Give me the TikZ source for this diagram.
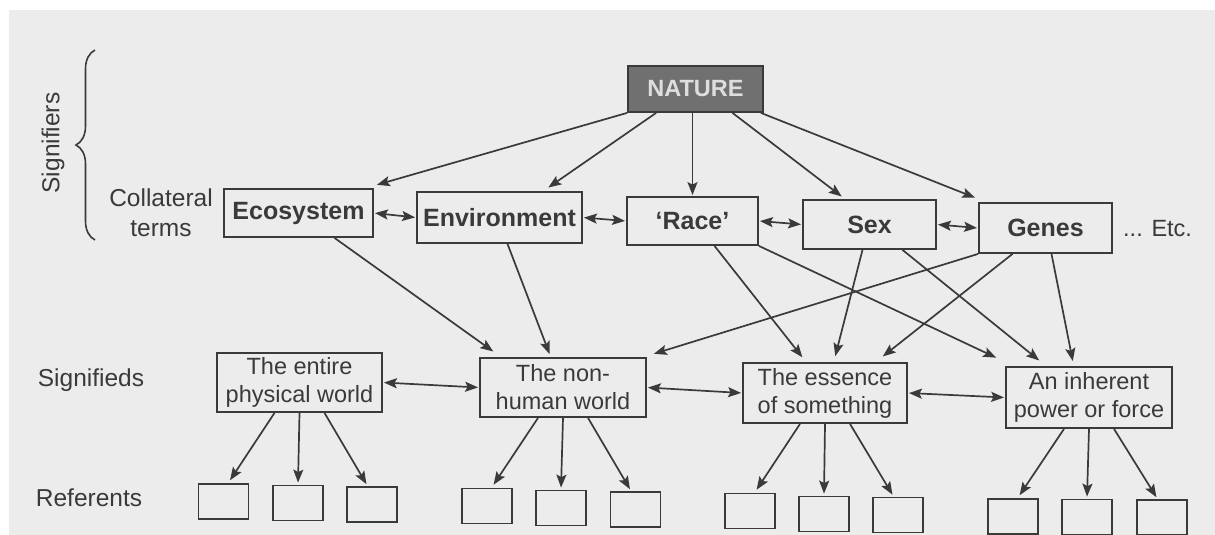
\documentclass[tikz,border=0pt]{standalone}
\usepackage{fontspec}
\setmainfont{Liberation Sans}
\usetikzlibrary{arrows.meta,decorations.pathreplacing,calc}
\definecolor{paper}{RGB}{236,236,236}
\definecolor{ink}{RGB}{58,58,58}
\definecolor{natfill}{RGB}{112,112,112}
\definecolor{nattext}{RGB}{222,222,222}
\begin{document}
\begin{tikzpicture}[x=1pt,y=-1pt,
  box/.style={draw=ink, line width=1.8pt, inner sep=0pt, text=ink, align=center},
  termbox/.style={box, font=\fontsize{25}{30}\selectfont\bfseries, minimum height=48pt},
  sigbox/.style={box, font=\fontsize{23.5}{28}\selectfont, minimum width=166pt, minimum height=60pt},
  refbox/.style={box, minimum width=50pt, minimum height=35pt},
  lbl/.style={text=ink, font=\fontsize{24.5}{30}\selectfont, align=center, inner sep=0pt},
  tip/.tip={Stealth[length=13pt,width=10pt,inset=2.5pt]},
  arr/.style={draw=ink, line width=1.7pt, -tip, shorten >=1pt},
  darr/.style={draw=ink, line width=1.7pt, tip-tip, shorten >=1pt, shorten <=1pt},
]
\useasboundingbox (0,0) rectangle (1215,535);
\fill[white] (0,0) rectangle (1215,535);
\fill[paper] (9,10) rectangle (1215,535);

% top
\node[box, fill=natfill, text=nattext, font=\fontsize{23.5}{28}\selectfont\bfseries, minimum width=135pt, minimum height=46pt] (nature) at (695.5,89) {NATURE};

% collateral terms
\node[termbox, minimum width=149pt] (eco) at (298.5,213) {Ecosystem};
\node[termbox, minimum width=165pt, minimum height=51pt] (env) at (499.5,217.5) {Environment};
\node[termbox, minimum width=131pt] (race) at (692.5,221) {‘Race’};
\node[termbox, minimum width=133pt, minimum height=49pt] (sex) at (869.5,224.5) {Sex};
\node[termbox, minimum width=133pt, minimum height=50pt] (genes) at (1045.5,228) {Genes};
\node[lbl, font=\fontsize{23.5}{28}\selectfont, anchor=west] (etc) at (1123,229) {... Etc.};

% signifieds
\node[sigbox, minimum width=165pt, minimum height=59pt] (entire) at (299.5,382.5) {The entire\\physical world};
\node[sigbox, minimum height=59pt] (nonhuman) at (563,387.5) {The non-\\human world};
\node[sigbox, minimum width=164pt] (essence) at (825,393) {The essence\\of something};
\node[sigbox, minimum height=61pt] (inherent) at (1089,397.5) {An inherent\\power or force};

% referents
\node[refbox] (r1) at (223.5,501.5) {};
\node[refbox] (r2) at (298,503) {};
\node[refbox] (r3) at (372,504.5) {};
\node[refbox] (r4) at (487,506) {};
\node[refbox] (r5) at (561,508) {};
\node[refbox] (r6) at (635.5,509.5) {};
\node[refbox] (r7) at (750,511) {};
\node[refbox] (r8) at (824,514) {};
\node[refbox] (r9) at (898,515) {};
\node[refbox] (r10) at (1013,516.5) {};
\node[refbox] (r11) at (1087,517) {};
\node[refbox] (r12) at (1162,517.5) {};

% side labels
\node[lbl, rotate=90] (signifiers) at (53,143) {Signifiers};
\node[lbl] (collat) at (161,213) {Collateral\\terms};
\node[lbl] (signifieds) at (91,380) {Signifieds};
\node[lbl] (referents) at (89,498) {Referents};

\coordinate (brbot) at (95,240);
\coordinate (brtop) at (95,50);
\draw[ink, line width=1.6pt, decorate, decoration={brace, amplitude=19pt}] (brbot) -- (brtop);

% nature -> terms
\draw[arr] (nature.south west) -- ([xshift=2pt,yshift=3pt]eco.north east);
\draw[arr] ([xshift=29pt]nature.south west) -- ([xshift=48pt,yshift=3pt]env.north);
\draw[arr] (race.north |- nature.south) -- (race.north);
\draw[arr] ([xshift=37pt]nature.south) -- ([xshift=-27pt,yshift=2pt]sex.north);
\draw[arr] ([xshift=-3pt]nature.south east) -- ([xshift=-2pt,yshift=4pt]genes.north west);

% terms <-> terms
\draw[darr] (eco.east) -- (env.west);
\draw[darr] (env.east) -- (race.west);
\draw[darr] (race.east) -- (sex.west);
\draw[darr] (sex.east) -- (genes.west);

% terms -> signifieds
\draw[arr] ([xshift=36pt]eco.south) -- ([xshift=15pt,yshift=5pt]nonhuman.north west);
\draw[arr] ([xshift=8pt]env.south) -- ([xshift=-13pt,yshift=2pt]nonhuman.north);
\draw[arr] ([xshift=22pt]race.south) -- ([xshift=-22pt,yshift=4pt]essence.north);
\draw[arr] (race.south east) -- ([xshift=-8pt,yshift=8pt]inherent.north west);
\draw[arr] ([xshift=-7pt]sex.south) -- ([xshift=10pt,yshift=5pt]essence.north);
\draw[arr] ([xshift=33pt]sex.south) -- ([xshift=-49pt,yshift=5pt]inherent.north);
\draw[arr] (genes.south west) -- ([xshift=6pt,yshift=3pt]nonhuman.north east);
\draw[arr] ([xshift=-33pt]genes.south) -- ([xshift=57pt,yshift=5pt]essence.north);
\draw[arr] ([xshift=6pt]genes.south) -- ([xshift=-16pt,yshift=4pt]inherent.north);

% signifieds <-> signifieds
\draw[darr] (entire.east) -- (nonhuman.west);
\draw[darr] (nonhuman.east) -- (essence.west);
\draw[darr] (essence.east) -- (inherent.west);

% signifieds -> referents
\draw[arr] ([xshift=-25pt]entire.south) -- ([xshift=6pt,yshift=2pt]r1.north);
\draw[arr] (entire.south) -- ([yshift=1pt]r2.north);
\draw[arr] ([xshift=25pt]entire.south) -- ([xshift=-5pt,yshift=1pt]r3.north);
\draw[arr] ([xshift=-25pt]nonhuman.south) -- ([xshift=6pt,yshift=2pt]r4.north);
\draw[arr] (nonhuman.south) -- ([yshift=1pt]r5.north);
\draw[arr] ([xshift=25pt]nonhuman.south) -- ([xshift=-5pt,yshift=1pt]r6.north);
\draw[arr] ([xshift=-25pt]essence.south) -- ([xshift=6pt,yshift=2pt]r7.north);
\draw[arr] (essence.south) -- ([yshift=1pt]r8.north);
\draw[arr] ([xshift=25pt]essence.south) -- ([xshift=-5pt,yshift=1pt]r9.north);
\draw[arr] ([xshift=-25pt]inherent.south) -- ([xshift=6pt,yshift=2pt]r10.north);
\draw[arr] (inherent.south) -- ([yshift=1pt]r11.north);
\draw[arr] ([xshift=25pt]inherent.south) -- ([xshift=-5pt,yshift=1pt]r12.north);
\end{tikzpicture}
\end{document}
